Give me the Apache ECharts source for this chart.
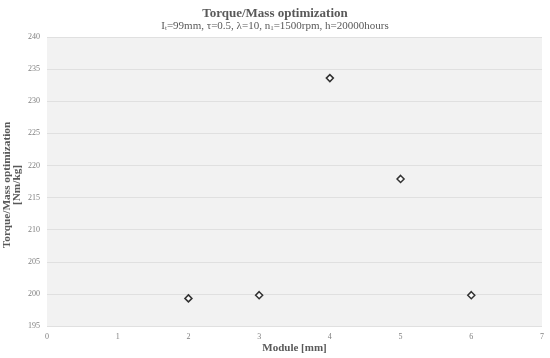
<!DOCTYPE html>
<html><head><meta charset="utf-8">
<script src="https://cdn.jsdelivr.net/npm/echarts@6/dist/echarts.min.js"></script>
<style>html,body{margin:0;padding:0;background:#fff}#c{width:550px;height:358px}</style>
</head><body><div id="c"></div>
<script>
const modules = [2, 3, 4, 5, 6];
const torqueMass = [199.3, 199.8, 233.6, 217.9, 199.8];
const yTicks = [195, 240, 5];
const xTicks = [0, 7, 1];

const chart = echarts.init(document.getElementById('c'));
const serif = '"Liberation Serif", "DejaVu Serif", serif';
chart.setOption({
  backgroundColor: '#fff',
  animation: false,
  title: {
    text: 'Torque/Mass optimization',
    subtext: '{n|I}{s|t}{n|=99mm, τ=0.5, λ=10, n}{s|1}{n|=1500rpm, h=20000hours}',
    left: 'center', top: 2, itemGap: 1,
    textStyle: { fontFamily: serif, fontSize: 13, fontWeight: 'bold', color: '#595959' },
    subtextStyle: {
      fontFamily: serif, color: '#595959',
      rich: {
        n: { fontFamily: serif, fontSize: 11, color: '#595959' },
        s: { fontFamily: serif, fontSize: 7, color: '#595959', verticalAlign: 'bottom', padding: [4, 0, 0, 0] }
      }
    }
  },
  grid: { left: 47, right: 8, top: 37, bottom: 32, containLabel: false, outerBoundsMode: 'none', show: true, backgroundColor: '#f2f2f2', borderWidth: 0 },
  xAxis: {
    type: 'value', min: xTicks[0], max: xTicks[1], interval: xTicks[2],
    name: 'Module [mm]', nameLocation: 'middle', nameGap: 17, nameMoveOverlap: false,
    nameTextStyle: { fontFamily: serif, fontSize: 11, fontWeight: 'bold', color: '#595959' },
    axisLine: { show: false }, axisTick: { show: false },
    splitLine: { show: false },
    axisLabel: { fontFamily: serif, fontSize: 8, color: '#808080', margin: 7 }
  },
  yAxis: {
    type: 'value', min: yTicks[0], max: yTicks[1], interval: yTicks[2],
    name: 'Torque/Mass optimization\n[Nm/kg]', nameLocation: 'middle', nameGap: 25, nameMoveOverlap: false,
    nameTextStyle: { fontFamily: serif, fontSize: 11.3, fontWeight: 'bold', color: '#595959', lineHeight: 10, padding: [0, 7, 0, 0] },
    axisLine: { show: false }, axisTick: { show: false },
    splitLine: { show: true, lineStyle: { color: '#e0e0e0', width: 1 } },
    axisLabel: { fontFamily: serif, fontSize: 8, color: '#808080', margin: 7 }
  },
  series: [{
    type: 'scatter',
    data: modules.map((m, i) => [m, torqueMass[i]]),
    symbol: 'diamond', symbolSize: 7,
    itemStyle: { color: '#fff', borderColor: '#000', borderWidth: 1.5 }
  }]
});
</script></body></html>
